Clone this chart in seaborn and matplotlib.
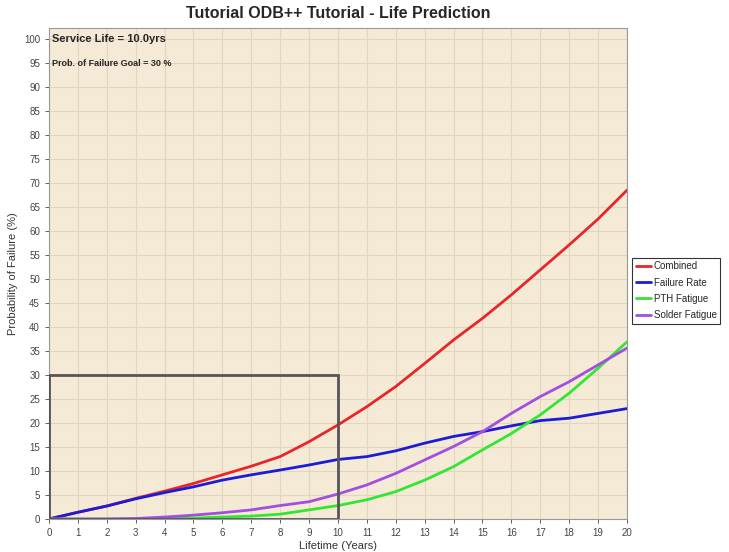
import pandas as pd
import matplotlib.pyplot as plt
import seaborn as sns
from matplotlib.patches import Rectangle

years = list(range(0, 21))

combined = [0.0, 1.4, 2.7, 4.3, 5.8, 7.4, 9.2, 11.0, 13.0, 16.1, 19.6,
            23.4, 27.6, 32.4, 37.3, 41.8, 46.7, 51.9, 57.1, 62.5, 68.5]
failure_rate = [0.0, 1.4, 2.7, 4.2, 5.5, 6.7, 8.1, 9.2, 10.2, 11.25, 12.4,
                13.0, 14.2, 15.8, 17.2, 18.2, 19.4, 20.5, 21.0, 22.0, 23.0]
pth_fatigue = [0.0, 0.0, 0.0, 0.0, 0.05, 0.2, 0.4, 0.6, 1.0, 1.9, 2.8,
               4.0, 5.7, 8.1, 10.9, 14.4, 17.8, 21.7, 26.2, 31.4, 36.9]
solder_fatigue = [0.0, 0.0, 0.0, 0.1, 0.4, 0.8, 1.3, 1.9, 2.8, 3.6, 5.2,
                  7.1, 9.5, 12.3, 15.1, 18.2, 22.0, 25.5, 28.6, 32.1, 35.6]

series_names = ["Combined", "Failure Rate", "PTH Fatigue", "Solder Fatigue"]
series_colors = ["#e8262a", "#1c1cd6", "#33e633", "#a24ee0"]

service_life = 10.0
failure_goal = 30

df = pd.DataFrame({
    "Lifetime": years * 4,
    "Probability": combined + failure_rate + pth_fatigue + solder_fatigue,
    "Series": [n for n in series_names for _ in years],
})

sns.set_style("ticks")
plt.rcParams["font.family"] = ["Liberation Sans", "DejaVu Sans"]

fig = plt.figure(figsize=(7.29, 5.52), dpi=100)
ax = fig.add_axes([0.0672, 0.0598, 0.7928, 0.8895])
ax.set_facecolor("#f4ead6")

sns.lineplot(
    data=df,
    x="Lifetime",
    y="Probability",
    hue="Series",
    palette=series_colors,
    linewidth=2,
    ax=ax,
    zorder=3,
)

# service life / goal box
ax.add_patch(Rectangle((0, 0), service_life, failure_goal, fill=False,
                       edgecolor="#555555", linewidth=2, zorder=4))

ax.set_xlim(0, 20)
ax.set_ylim(0, 102.3)
ax.set_xticks(range(0, 21))
ax.set_yticks(range(0, 101, 5))
ax.grid(True, color="#e2d6bf", linewidth=0.8)
ax.set_axisbelow(True)
ax.tick_params(labelsize=7, colors="#444444", length=3, width=0.6)

for s in ax.spines.values():
    s.set_color("#999999")
    s.set_linewidth(0.8)

ax.set_xlabel("Lifetime (Years)", fontsize=8, color="#333333", labelpad=2)
ax.set_ylabel("Probability of Failure (%)", fontsize=8, color="#333333", labelpad=4)
ax.set_title("Tutorial ODB++ Tutorial - Life Prediction", fontsize=11.5,
             fontweight="bold", pad=7)

ax.text(0.1, 100, f"Service Life = {service_life}yrs", fontsize=8,
        fontweight="bold", va="center", ha="left")
ax.text(0.1, 95, f"Prob. of Failure Goal = {failure_goal} %", fontsize=6.5,
        fontweight="bold", va="center", ha="left")

leg = ax.legend(loc="center left", bbox_to_anchor=(1.006, 0.465), fontsize=7,
                frameon=True, fancybox=False, borderpad=0.35, labelspacing=0.65,
                handlelength=1.6, handletextpad=0.25, borderaxespad=0.2,
                title=None)
leg.get_frame().set_edgecolor("black")
leg.get_frame().set_linewidth(0.8)

plt.savefig("out.png", dpi=100)
plt.close()
